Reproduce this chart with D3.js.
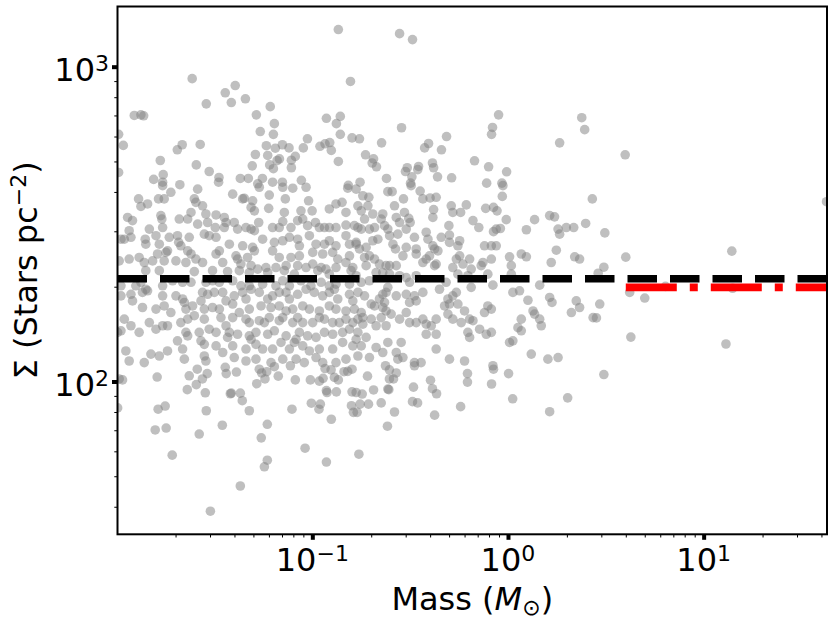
<!DOCTYPE html>
<html>
<head>
<meta charset="utf-8">
<script src="https://cdn.jsdelivr.net/npm/d3@7"></script>
<style>
  body { margin: 0; background: #fff; }
  text { font-family: "DejaVu Sans", sans-serif; fill: #000; }
</style>
</head>
<body>
<div id="chart"></div>
<script>
// log10 of mass (Msun) and of surface density (stars pc^-2)
const logMass = [
  // upper left
  -0.867,-1.614,-0.805,-1.445,-1.394,-1.414,-1.542,-1.342,-1.910,-1.876,-1.862,-1.286,
  -1.215,-1.194,-1.266,-1.199,-0.928,-0.857,-0.877,-0.857,-0.797,-1.990,-1.966,-1.025,
  -1.046,-0.961,-0.935,-0.911,-0.903,-0.867,-1.235,-1.189,-1.153,-1.119,-1.291,-1.228,
  -1.168,-1.180,-1.107,-1.087,-1.107,-1.218,-1.199,-1.307,-1.690,-1.665,-1.573,-1.777,
  -1.593,-1.762,-1.811,-1.990,-1.527,-1.477,-1.368,-1.327,-1.255,-1.056,-1.153,-1.203,
  -1.279,-0.816,-1.765,-1.677,-1.479,
  // upper middle
  -0.554,-0.488,-0.048,-0.079,-0.084,0.377,0.392,0.264,-0.544,-0.759,-0.646,-0.314,
  -0.406,-0.426,-0.340,-0.728,-0.687,-0.694,-0.672,-0.171,-0.099,-0.007,-0.386,-0.380,
  -0.457,-0.461,-0.515,-0.524,-0.491,-0.621,-0.360,-0.288,-0.756,-0.498,-0.109,-0.031,
  // high mass side
  0.599,1.628,0.495,0.602,0.490,0.461,1.144,0.622,0.805,0.699,1.148,0.469,
  0.452,0.628,1.114,0.490,
  // lower left
  -1.987,-1.970,-1.793,-1.629,-1.588,-1.537,-1.562,-1.593,-1.639,-1.547,-1.445,-1.440,
  -1.388,-1.414,-1.419,-1.368,-1.358,-1.322,-1.542,-1.995,-1.788,-1.752,-1.803,-1.747,
  -1.578,-1.460,-1.716,-1.521,-1.368,-1.261,-1.230,-1.230,-1.245,-1.271,-1.259,-1.233,
  -1.242,-1.284,-1.194,-1.174,-1.112,-1.087,-1.104,-1.005,-1.010,-0.964,-0.945,-0.935,
  -0.904,-0.887,-0.867,-0.838,-0.819,-0.797,-0.928,-0.925,-0.877,-0.797,-0.959,-0.966,
  -0.903,-0.800,-0.790,-1.037,-0.928,
  // lower middle
  -0.762,-0.718,-0.687,-0.745,-0.756,-0.713,-0.771,-0.776,-0.648,-0.614,-0.609,-0.580,
  -0.616,-0.606,-0.585,-0.571,-0.606,-0.626,-0.478,-0.483,-0.488,-0.462,-0.396,-0.386,
  -0.365,-0.375,-0.242,-0.207,-0.207,-0.074,-0.084,0.003,0.024,0.213,0.305,
  // dense band, low masses
  -1.765,-1.723,-1.586,-1.407,-1.348,-1.305,-1.271,-1.220,-1.151,-1.100,-1.032,-0.819,
  -0.776,-1.888,-1.876,-1.842,-1.786,-1.757,-1.603,-1.595,-1.561,-1.356,-1.313,-1.296,
  -1.223,-1.138,-1.143,-1.019,-1.058,-1.001,-0.913,-0.879,-0.848,-0.828,
  -1.944,-1.919,-1.774,-1.769,-1.680,-1.637,-1.620,-1.544,-1.492,-1.450,-1.441,-1.399,
  -1.382,-1.339,-1.313,-1.296,-1.274,-1.203,-1.169,-1.151,-1.109,-1.075,-1.049,-1.024,
  -0.984,-0.964,-0.938,-0.913,-0.879,-0.828,-0.785,-1.833,-1.765,-1.586,-1.535,-1.496,
  -1.450,
  -1.978,-1.961,-1.936,-1.927,-1.854,-1.851,-1.799,-1.782,-1.731,-1.689,-1.683,-1.672,
  -1.629,-1.552,-1.527,-1.492,-1.424,-1.356,-1.305,-1.296,-1.254,-1.194,-1.151,-1.117,
  -1.075,-1.066,-1.015,-0.981,-0.938,-0.913,-0.879,-0.828,-0.810,-0.776,
  -1.740,-1.748,-1.791,-1.637,-1.620,-1.492,-1.475,-1.390,-1.382,-1.331,-1.203,-1.169,
  -1.109,-1.066,-0.998,-0.947,-0.896,-0.870,-0.810,
  -1.987,-1.936,-1.885,-1.859,-1.816,-1.757,-1.697,-1.646,-1.595,-1.561,-1.458,-1.365,
  -1.313,-1.279,-1.237,-1.186,-1.134,-1.075,-1.032,-0.998,-0.955,-0.930,-0.879,-0.828,
  -0.793,-1.851,-1.782,-1.603,-1.510,-1.433,-1.373,-1.322,-1.228,-1.143,-1.092,-0.972,
  -0.913,-0.802,
  -1.978,-1.902,-1.876,-1.851,-1.765,-1.714,-1.663,-1.620,-1.544,-1.510,-1.475,-1.407,
  -1.365,-1.322,-1.254,-1.186,-1.151,-1.117,-1.058,-1.007,-0.955,-0.913,-0.879,-0.810,
  -1.978,-1.927,-1.919,-1.868,-1.842,-1.765,-1.697,-1.663,-1.654,-1.561,-1.569,-1.535,
  -1.501,-1.458,-1.441,-1.399,-1.356,-1.339,-1.313,-1.271,-1.228,-1.203,-1.169,-1.134,
  -1.117,-1.075,-1.032,-0.990,-0.947,-0.913,-0.887,-0.870,-0.810,-0.793,
  -1.868,-1.799,-1.757,-1.723,-1.646,-1.612,-1.552,-1.510,-1.475,-1.407,-1.373,-1.322,
  -1.262,-1.211,-1.169,-1.134,-1.100,-1.049,-1.015,-0.964,-0.913,-0.879,-0.828,-0.785,
  -1.961,-1.927,-1.833,-1.765,-1.740,-1.672,-1.637,-1.603,-1.552,-1.527,-1.467,-1.441,
  -1.407,-1.339,-1.322,-1.271,-1.245,-1.220,-1.169,-1.151,-1.100,-1.075,-1.049,-0.998,
  -0.964,-0.938,-0.896,-0.862,-0.828,-0.793,
  -1.995,-1.978,-1.885,-1.799,-1.646,-1.637,-1.578,-1.492,-1.433,-1.424,-1.382,-1.322,
  -1.313,-1.288,-1.228,-1.194,-1.134,-1.083,-1.066,-1.024,-0.981,-0.938,-0.896,-0.845,
  -0.810,
  -1.689,-1.663,-1.569,-1.552,-1.492,-1.458,-1.407,-1.339,-1.288,-1.254,-1.203,-1.160,
  -1.117,-1.092,-1.049,-1.015,-0.964,-0.896,-0.845,-0.793,
  -1.953,-1.825,-1.782,-1.740,-1.936,-1.859,-1.654,-1.552,-1.544,-1.399,-1.339,-1.288,
  -1.211,-1.151,-1.083,-1.041,-0.981,-0.947,-0.879,-0.828,
  // dense band, middle masses
  -0.742,-0.711,-0.614,-0.592,-0.534,-0.495,-0.449,-0.435,-0.398,-0.367,-0.380,-0.384,
  -0.290,-0.282,-0.242,-0.213,-0.114,-0.074,-0.056,-0.029,-0.026,0.431,-0.767,-0.750,
  -0.733,-0.716,-0.691,-0.640,-0.631,-0.580,-0.571,-0.529,-0.507,-0.500,-0.554,-0.520,
  -0.478,-0.767,-0.750,-0.708,-0.682,-0.614,-0.605,-0.563,-0.588,-0.575,-0.648,-0.665,
  -0.691,-0.418,-0.409,-0.384,-0.375,-0.341,-0.302,-0.299,-0.299,-0.256,-0.247,-0.179,
  -0.149,-0.120,-0.085,-0.074,-0.060,-0.039,-0.009,-0.060,0.136,0.094,0.213,0.238,
  0.256,0.264,0.298,0.336,0.397,
  -0.776,-0.759,-0.725,-0.733,-0.708,-0.682,-0.725,-0.657,-0.623,-0.605,-0.571,-0.537,
  -0.520,-0.469,-0.469,-0.435,-0.418,-0.401,-0.375,-0.367,-0.358,-0.282,-0.264,-0.247,
  -0.230,-0.196,-0.188,-0.137,-0.128,-0.085,0.008,0.017,0.068,0.094,0.221,0.247,
  0.341,0.366,
  -0.776,-0.750,-0.708,-0.674,-0.640,-0.605,-0.554,-0.520,-0.503,-0.469,-0.350,-0.316,
  -0.256,-0.205,-0.188,-0.103,-0.077,0.017,0.025,0.059,0.162,0.102,0.213,0.225,
  0.349,0.366,0.324,0.435,
  -0.767,-0.733,-0.699,-0.682,-0.657,-0.640,-0.623,-0.614,-0.631,-0.640,-0.623,-0.597,
  -0.571,-0.520,-0.503,-0.478,-0.469,-0.435,-0.324,-0.307,-0.299,-0.282,-0.264,-0.222,
  -0.256,-0.767,-0.742,-0.699,-0.648,-0.554,-0.520,-0.503,-0.469,-0.435,-0.418,-0.392,
  -0.367,-0.418,-0.367,-0.307,-0.282,-0.239,-0.196,-0.179,-0.145,-0.120,-0.103,-0.085,
  -0.111,-0.085,-0.205,-0.196,0.008,0.025,0.068,0.051,0.068,0.128,0.136,0.162,
  0.170,-0.776,-0.725,-0.674,-0.640,-0.614,-0.571,-0.546,-0.537,-0.563,-0.708,-0.750,
  -0.767,-0.478,-0.444,-0.367,-0.299,-0.222,-0.077,0.119,0.204,0.256,-0.767,-0.742,
  -0.674,-0.750,-0.623
]

const logSigma = [
  // upper left
  3.118,2.962,2.953,2.917,2.940,2.886,2.882,2.898,2.845,2.847,2.844,2.847,
  2.873,2.819,2.794,2.785,2.836,2.842,2.819,2.785,2.774,2.785,2.750,2.771,
  2.742,2.747,2.755,2.759,2.734,2.699,2.749,2.741,2.752,2.742,2.721,2.718,
  2.707,2.702,2.703,2.715,2.679,2.688,2.676,2.685,2.736,2.752,2.753,2.702,
  2.688,2.657,2.642,2.664,2.667,2.648,2.645,2.645,2.645,2.639,2.633,2.633,
  2.628,2.623,2.633,2.625,2.633,
  // upper middle
  3.105,3.086,2.847,2.807,2.785,2.838,2.800,2.758,2.806,2.771,2.758,2.778,
  2.756,2.742,2.736,2.720,2.707,2.694,2.682,2.701,2.682,2.666,2.694,2.679,
  2.683,2.673,2.679,2.667,2.650,2.645,2.650,2.647,2.633,2.630,2.630,2.630,
  // high mass side
  2.720,2.571,2.472,2.395,2.363,2.344,2.414,2.283,2.302,2.265,2.296,2.246,
  2.202,2.141,2.119,2.022,
  // lower left
  2.008,2.005,2.014,2.018,2.039,2.025,2.008,1.990,1.974,1.964,2.045,2.025,
  2.030,1.963,1.961,1.963,1.939,1.907,1.907,1.916,1.912,1.922,1.846,1.852,
  1.833,1.861,1.766,1.588,1.668,1.821,1.864,1.750,1.729,2.039,2.027,2.031,
  2.008,1.993,2.047,2.017,2.050,2.005,1.912,1.931,2.005,2.001,2.010,2.041,
  2.037,2.013,2.005,2.031,2.032,2.039,1.971,1.965,1.967,1.967,1.928,1.912,
  1.880,1.923,1.902,1.788,1.744,
  // lower middle
  1.769,2.017,1.973,1.960,1.928,1.928,1.902,1.965,1.932,1.976,1.974,1.903,
  1.858,2.008,2.008,2.027,2.037,2.050,2.050,1.982,1.936,1.932,2.004,1.977,
  1.961,1.893,1.920,2.025,1.998,2.039,1.992,2.025,1.945,1.904,1.948,
  // dense band, low masses
  2.622,2.601,2.611,2.595,2.582,2.574,2.617,2.592,2.617,2.614,2.617,2.614,
  2.611,2.580,2.556,2.564,2.580,2.580,2.580,2.569,2.558,2.580,2.553,2.542,
  2.550,2.580,2.537,2.574,2.542,2.542,2.548,2.564,2.569,2.537,
  2.521,2.511,2.527,2.516,2.516,2.516,2.537,2.532,2.529,2.521,2.505,2.505,
  2.484,2.489,2.484,2.479,2.505,2.489,2.489,2.508,2.489,2.511,2.516,2.495,
  2.505,2.489,2.489,2.489,2.489,2.497,2.495,2.484,2.489,2.500,2.505,2.489,
  2.489,
  2.452,2.452,2.479,2.458,2.452,2.436,2.463,2.436,2.458,2.463,2.442,2.431,
  2.458,2.468,2.463,2.458,2.436,2.431,2.426,2.415,2.452,2.442,2.447,2.458,
  2.452,2.431,2.463,2.436,2.436,2.447,2.431,2.463,2.436,2.442,
  2.415,2.410,2.405,2.415,2.405,2.405,2.415,2.399,2.389,2.394,2.415,2.394,
  2.394,2.399,2.410,2.405,2.410,2.389,2.399,
  2.383,2.389,2.394,2.378,2.383,2.383,2.383,2.378,2.389,2.378,2.378,2.373,
  2.368,2.357,2.362,2.362,2.368,2.368,2.362,2.373,2.362,2.357,2.362,2.378,
  2.362,2.352,2.352,2.349,2.352,2.349,2.352,2.346,2.346,2.352,2.341,2.352,
  2.341,2.352,
  2.304,2.304,2.315,2.293,2.304,2.320,2.315,2.315,2.315,2.320,2.315,2.320,
  2.304,2.304,2.309,2.304,2.320,2.304,2.320,2.304,2.315,2.304,2.309,2.309,
  2.272,2.277,2.256,2.283,2.288,2.272,2.272,2.262,2.251,2.283,2.256,2.277,
  2.283,2.283,2.256,2.272,2.283,2.262,2.293,2.283,2.262,2.272,2.283,2.283,
  2.262,2.277,2.293,2.283,2.272,2.283,2.293,2.262,2.277,2.256,
  2.235,2.230,2.240,2.219,2.230,2.240,2.230,2.235,2.230,2.246,2.219,2.230,
  2.240,2.235,2.240,2.224,2.230,2.240,2.230,2.224,2.240,2.230,2.224,2.230,
  2.198,2.177,2.187,2.177,2.177,2.187,2.198,2.209,2.198,2.166,2.203,2.177,
  2.203,2.198,2.187,2.193,2.187,2.203,2.193,2.203,2.187,2.203,2.187,2.187,
  2.203,2.198,2.187,2.187,2.198,2.187,
  2.156,2.161,2.156,2.166,2.156,2.145,2.156,2.156,2.140,2.156,2.150,2.145,
  2.134,2.156,2.150,2.161,2.145,2.134,2.156,2.145,2.140,2.156,2.150,2.156,
  2.166,
  2.129,2.103,2.129,2.118,2.113,2.092,2.113,2.103,2.118,2.103,2.103,2.124,
  2.103,2.124,2.113,2.097,2.103,2.103,2.124,2.113,
  2.097,2.087,2.081,2.097,2.065,2.060,2.071,2.081,2.065,2.076,2.065,2.071,
  2.060,2.071,2.071,2.060,2.076,2.060,2.060,2.071,
  // dense band, middle masses
  2.590,2.585,2.603,2.603,2.580,2.622,2.605,2.580,2.583,2.585,2.546,2.521,
  2.558,2.537,2.537,2.561,2.550,2.553,2.542,2.588,2.622,2.580,2.558,2.542,
  2.516,2.558,2.532,2.532,2.495,2.558,2.521,2.537,2.518,2.505,2.505,2.484,
  2.458,2.489,2.484,2.484,2.489,2.484,2.463,2.468,2.436,2.421,2.516,2.452,
  2.447,2.474,2.452,2.431,2.421,2.458,2.495,2.465,2.442,2.431,2.447,2.511,
  2.489,2.431,2.431,2.476,2.484,2.486,2.514,2.431,2.514,2.482,2.527,2.523,
  2.484,2.468,2.489,2.489,2.502,
  2.436,2.421,2.426,2.394,2.399,2.389,2.368,2.373,2.368,2.368,2.368,2.399,
  2.426,2.421,2.405,2.378,2.389,2.399,2.368,2.373,2.415,2.362,2.389,2.399,
  2.373,2.389,2.357,2.368,2.378,2.389,2.396,2.368,2.405,2.396,2.378,2.417,
  2.396,2.389,
  2.336,2.315,2.320,2.346,2.346,2.341,2.336,2.330,2.315,2.336,2.293,2.315,
  2.341,2.336,2.299,2.341,2.306,2.341,2.283,2.288,2.306,2.258,2.267,2.251,
  2.256,2.235,2.219,2.203,
  2.283,2.272,2.246,2.240,2.262,2.277,2.283,2.299,2.251,2.235,2.224,2.214,
  2.272,2.277,2.251,2.272,2.256,2.283,2.240,2.262,2.246,2.272,2.283,2.224,
  2.246,2.198,2.203,2.198,2.203,2.198,2.219,2.187,2.187,2.198,2.182,2.177,
  2.198,2.150,2.150,2.214,2.198,2.187,2.198,2.193,2.166,2.219,2.240,2.230,
  2.150,2.156,2.156,2.140,2.124,2.129,2.198,2.171,2.161,2.224,2.214,2.198,
  2.177,2.134,2.140,2.108,2.092,2.124,2.092,2.124,2.076,2.071,2.076,2.113,
  2.081,2.060,2.060,2.103,2.071,2.065,2.050,2.087,2.071,2.076,2.156,2.182,
  2.177,2.219,2.177
]

// axis limits and ticks
const massDomain = [0.0101, 42.7]
const sigmaDomain = [32.7, 1553]
const massTicks = [0.1, 1, 10]
const massTickExp = ["\u22121", "0", "1"]
const sigmaTicks = [100, 1000]
const sigmaTickExp = ["2", "3"]

// median surface densities: all stars, and stars above massiveCut
const allMedian = 212
const massiveMedian = 199
const massiveCut = 4

const width = 835,
    height = 622
const plotL = 117.5, plotR = 827, plotT = 6.5, plotB = 534.3
const fontSize = 32, supSize = 22

const svg = d3.select("#chart")
  .append("svg")
    .attr("width", width)
    .attr("height", height)

const x = d3.scaleLog().domain(massDomain).range([plotL, plotR])
const y = d3.scaleLog().domain(sigmaDomain).range([plotB, plotT])

const n = Math.min(logMass.length, logSigma.length)
const stars = d3.range(n).map(i => ({mass: Math.pow(10, logMass[i]), sigma: Math.pow(10, logSigma[i])}))

svg.append("defs").append("clipPath")
    .attr("id", "plot-clip")
  .append("rect")
    .attr("x", plotL).attr("y", plotT)
    .attr("width", plotR - plotL).attr("height", plotB - plotT)

const plot = svg.append("g").attr("clip-path", "url(#plot-clip)")

// scatter
plot.selectAll("circle")
  .data(stars)
  .join("circle")
    .attr("cx", d => x(d.mass))
    .attr("cy", d => y(d.sigma))
    .attr("r", 4.8)
    .style("fill", "#808080")
    .style("fill-opacity", 0.5)

// median lines
const line = d3.line().x(d => x(d[0])).y(d => y(d[1]))

plot.append("path")
    .attr("d", line([[massDomain[0], allMedian], [massDomain[1], allMedian]]))
    .attr("stroke", "#000")
    .attr("stroke-width", 7.6)
    .attr("stroke-dasharray", "29.5,13")
    .attr("fill", "none")

plot.append("path")
    .attr("d", line([[massiveCut, massiveMedian], [massDomain[1], massiveMedian]]))
    .attr("stroke", "#ff0000")
    .attr("stroke-width", 7.6)
    .attr("stroke-dasharray", "51,13,8,13")
    .attr("fill", "none")

// minor ticks = everything d3 gives that is not a power of ten
const isMajor = v => Math.abs(Math.log10(v) - Math.round(Math.log10(v))) < 1e-9
const xMinor = x.ticks().filter(v => !isMajor(v))
const yMinor = y.ticks().filter(v => !isMajor(v))

function styleAxis(g, w){
    g.select(".domain").remove()
    g.selectAll(".tick line").attr("stroke", "#000").attr("stroke-width", w)
    g.selectAll(".tick text").remove()
}

svg.append("g")
    .attr("transform", `translate(0,${plotB})`)
    .call(d3.axisBottom(x).tickValues(xMinor).tickSize(3.2).tickFormat(""))
    .call(g => styleAxis(g, 1))
svg.append("g")
    .attr("transform", `translate(0,${plotB})`)
    .call(d3.axisBottom(x).tickValues(massTicks).tickSize(5.5).tickFormat(""))
    .call(g => styleAxis(g, 4))
svg.append("g")
    .attr("transform", `translate(${plotL},0)`)
    .call(d3.axisLeft(y).tickValues(yMinor).tickSize(3.2).tickFormat(""))
    .call(g => styleAxis(g, 1))
svg.append("g")
    .attr("transform", `translate(${plotL},0)`)
    .call(d3.axisLeft(y).tickValues(sigmaTicks).tickSize(5.5).tickFormat(""))
    .call(g => styleAxis(g, 4))

// frame
svg.append("rect")
    .attr("x", plotL).attr("y", plotT)
    .attr("width", plotR - plotL).attr("height", plotB - plotT)
    .attr("fill", "none")
    .attr("stroke", "#000")
    .attr("stroke-width", 2)

// tick labels as 10^n
const xLab = svg.selectAll(".xlab")
  .data(massTicks)
  .join("text")
    .attr("class", "xlab")
    .attr("x", d => x(d))
    .attr("y", 570.5)
    .attr("text-anchor", "middle")
    .style("font-size", fontSize + "px")
xLab.append("tspan").text("10")
xLab.append("tspan").attr("dy", -10).style("font-size", supSize + "px").text((d, i) => massTickExp[i])

const yLab = svg.selectAll(".ylab")
  .data(sigmaTicks)
  .join("text")
    .attr("class", "ylab")
    .attr("x", 109)
    .attr("y", d => y(d) + 14.5)
    .attr("text-anchor", "end")
    .style("font-size", fontSize + "px")
yLab.append("tspan").text("10")
yLab.append("tspan").attr("dy", -10).style("font-size", supSize + "px").text((d, i) => sigmaTickExp[i])

// axis titles
const xTitle = svg.append("text")
    .attr("x", (plotL + plotR) / 2)
    .attr("y", 609.5)
    .attr("text-anchor", "middle")
    .style("font-size", fontSize + "px")
xTitle.append("tspan").text("Mass (")
xTitle.append("tspan").style("font-style", "italic").text("M")
xTitle.append("tspan").attr("dy", 5).style("font-size", supSize + "px").text("\u2299")
xTitle.append("tspan").attr("dy", -5).text(")")

const yTitle = svg.append("text")
    .attr("transform", `translate(37,${(plotT + plotB) / 2}) rotate(-90)`)
    .attr("text-anchor", "middle")
    .style("font-size", fontSize + "px")
yTitle.append("tspan").text("\u03a3 (Stars pc")
yTitle.append("tspan").attr("dy", -11.5).style("font-size", supSize + "px").text("\u22122")
yTitle.append("tspan").attr("dy", 11.5).text(")")
</script>
</body>
</html>
